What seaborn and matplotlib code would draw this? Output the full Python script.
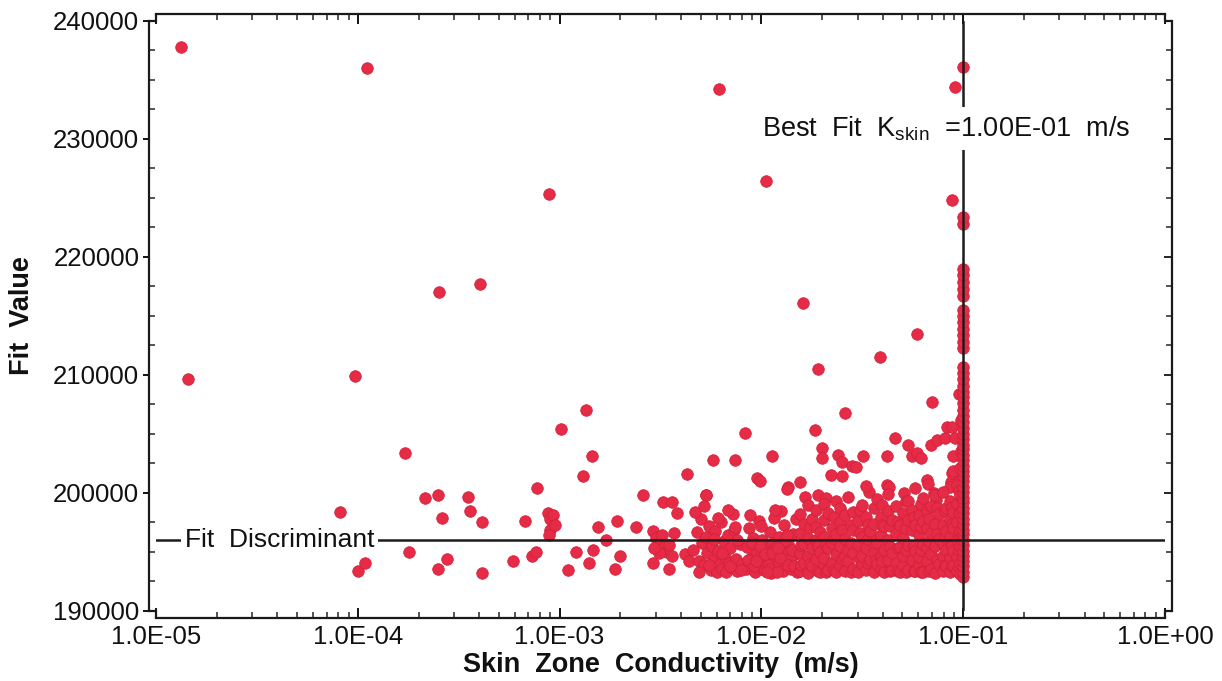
import matplotlib
matplotlib.use("Agg")
import matplotlib.pyplot as plt
import matplotlib.ticker as mticker
from matplotlib.lines import Line2D
import pandas as pd
import seaborn as sns

# ---- data: skin-zone conductivity trials (m/s) and their fit values ----
# scattered trials at low conductivity
low_k = [1.33e-5, 1.44e-5, 8.2e-5, 9.7e-5, 1.0e-4, 1.08e-4, 1.11e-4, 1.71e-4, 1.8e-4,
         2.15e-4, 2.49e-4, 2.6e-4, 2.5e-4, 2.76e-4, 2.52e-4, 3.52e-4, 3.6e-4, 4.04e-4,
         4.12e-4, 4.12e-4, 5.87e-4, 6.74e-4, 7.3e-4, 7.6e-4, 7.7e-4, 8.85e-4, 8.8e-4,
         9.0e-4, 9.3e-4, 9.0e-4, 9.5e-4, 8.9e-4, 1.02e-3, 1.1e-3, 1.2e-3, 1.3e-3,
         1.35e-3, 1.4e-3, 1.44e-3, 1.47e-3, 1.55e-3, 1.7e-3, 1.88e-3, 1.92e-3, 2.0e-3,
         2.4e-3, 2.59e-3, 2.9e-3, 3.25e-3, 3.6e-3, 3.5e-3, 3.8e-3, 2.9e-3, 3.0e-3,
         3.1e-3, 3.2e-3, 3.3e-3, 3.4e-3, 3.5e-3, 3.1e-3, 3.6e-3, 3.7e-3, 2.95e-3,
         4.2e-3, 4.4e-3, 4.27e-3]
low_fit = [237800, 209700, 198400, 209900, 193400, 194100, 236000, 203400, 195000,
           199600, 199800, 197900, 193600, 194400, 217000, 199700, 198500, 217700,
           197500, 193200, 194200, 197600, 194700, 195000, 200400, 225300, 198300,
           197800, 198100, 196900, 197300, 196400, 205400, 193500, 195000, 201400,
           207000, 194100, 203100, 195200, 197100, 196000, 193600, 197600, 194700,
           197100, 199800, 194100, 199200, 199200, 193600, 198300, 196800, 196200,
           195700, 196400, 195400, 195000, 195600, 194900, 194700, 196600, 195300,
           194800, 194200, 201600]

# trials between 4.5E-03 and 1.5E-02
mid_k = [4.6e-3, 4.8e-3, 4.9e-3, 5.0e-3, 5.1e-3, 5.2e-3, 5.3e-3, 5.4e-3, 5.5e-3, 5.6e-3,
         5.7e-3, 5.8e-3, 5.9e-3, 6.0e-3, 6.1e-3, 6.2e-3, 6.3e-3, 6.4e-3, 6.5e-3, 6.6e-3,
         6.7e-3, 6.8e-3, 6.9e-3, 7.0e-3, 7.1e-3, 7.3e-3, 7.5e-3, 7.6e-3, 7.8e-3, 8.0e-3,
         4.7e-3, 5.2e-3, 6.1e-3, 7.2e-3, 5.3e-3, 6.8e-3, 7.4e-3, 7.6e-3,
         8.4e-3, 8.5e-3, 8.7e-3, 8.9e-3, 9.1e-3, 9.3e-3, 9.5e-3, 9.7e-3, 9.9e-3, 1.01e-2,
         1.03e-2, 1.05e-2, 1.07e-2, 1.1e-2, 1.12e-2, 1.14e-2, 1.17e-2, 1.2e-2, 1.22e-2,
         1.25e-2, 1.28e-2, 1.3e-2, 1.33e-2, 1.36e-2, 1.4e-2, 1.43e-2, 1.46e-2, 1.5e-2,
         1.48e-2, 8.8e-3, 1.0e-2, 1.15e-2, 1.25e-2, 1.08e-2, 9.0e-3, 1.18e-2, 1.32e-2,
         1.38e-2, 1.0e-2,
         8.6e-3, 9.2e-3, 9.8e-3, 1.04e-2, 1.09e-2, 1.13e-2, 1.19e-2, 1.24e-2, 1.29e-2,
         1.35e-2, 1.41e-2, 1.45e-2, 9.4e-3, 1.06e-2, 1.21e-2, 1.34e-2, 5.5e-3, 6.4e-3,
         7.0e-3, 7.9e-3, 4.9e-3, 5.8e-3]
mid_fit = [195200, 196700, 194200, 197800, 195800, 193900, 196300, 194900, 197200, 193500,
           195500, 194300, 196800, 193300, 195100, 194000, 197500, 193600, 195900, 194600,
           193300, 196400, 194100, 195300, 193700, 196900, 194400, 193400, 195700, 194000,
           198400, 198900, 197900, 198200, 199800, 198600, 197100, 196000,
           193600, 195400, 197000, 194500, 196200, 193300, 195000, 197600, 194000, 196000,
           193500, 195300, 194300, 196700, 193200, 195800, 194700, 193800, 196300,
           195100, 193400, 197300, 194200, 195700, 193600, 196500, 194800, 193300,
           197800, 198100, 197200, 197900, 198500, 193900, 195800, 195400, 195000,
           194400, 194700,
           194300, 193800, 195500, 194800, 193600, 194900, 193300, 194500, 195900,
           193900, 195200, 193800, 194200, 193300, 195300, 196400, 193900, 194900,
           193800, 193500, 193300, 196100]

# dense band of trials from 1.5E-02 up to the best-fit value
band_rows = [
    (1.55e-2, [193400, 194900, 196600, 198200]),
    (1.58e-2, [193900, 195600]),
    (1.62e-2, [194100, 195700, 197400]),
    (1.70e-2, [193200, 194700, 196200, 199000]),
    (1.74e-2, [194000, 197100]),
    (1.78e-2, [193800, 195300, 197800]),
    (1.86e-2, [194400, 196000, 197100, 198600]),
    (1.90e-2, [193400, 195500]),
    (1.95e-2, [193300, 195000, 196700]),
    (2.05e-2, [193900, 194500, 196300, 197700, 199100]),
    (2.10e-2, [193300, 195600]),
    (2.15e-2, [193500, 195300, 198300]),
    (2.25e-2, [194100, 195800, 197000]),
    (2.30e-2, [193500, 196200, 198000]),
    (2.35e-2, [193300, 194800, 196500, 199300]),
    (2.45e-2, [193900, 195500, 197500, 198700]),
    (2.52e-2, [194400, 196900]),
    (2.60e-2, [193400, 194600, 196100, 198100]),
    (2.70e-2, [194200, 195200, 199700]),
    (2.78e-2, [193300, 195800, 197300]),
    (2.85e-2, [193600, 194900, 196900, 198400]),
    (3.00e-2, [193300, 195600, 197600]),
    (3.08e-2, [194400, 196600, 198600]),
    (3.15e-2, [194000, 194700, 196300, 199000]),
    (3.30e-2, [193500, 195300, 198000, 200600]),
    (3.38e-2, [194100, 196100, 197300]),
    (3.45e-2, [194300, 196800]),
    (3.60e-2, [193300, 195000, 197400, 198700]),
    (3.68e-2, [194300, 196000]),
    (3.75e-2, [194000, 195800, 199500]),
    (3.90e-2, [193600, 194700, 196400, 198000]),
    (3.98e-2, [194200, 197300, 199000]),
    (4.05e-2, [193300, 195200, 197200]),
    (4.25e-2, [194300, 196000, 198500, 199900]),
    (4.35e-2, [193400, 195400, 197200]),
    (4.45e-2, [193500, 194900, 197700]),
    (4.65e-2, [194100, 196500, 198900]),
    (4.75e-2, [193400, 195300, 197500]),
    (4.85e-2, [193300, 195400, 197300]),
    (5.05e-2, [193900, 194700, 196200, 198300]),
    (5.18e-2, [193300, 195200, 197000, 199300]),
    (5.30e-2, [193500, 195600, 197700, 199300]),
    (5.55e-2, [194300, 196900, 198600]),
    (5.68e-2, [193400, 195500, 198000]),
    (5.80e-2, [193400, 195100, 197300, 200400]),
    (6.05e-2, [193900, 194600, 196400, 198100]),
    (6.20e-2, [193300, 195200, 197100, 199100]),
    (6.35e-2, [193300, 195700, 197600, 199600]),
    (6.65e-2, [194200, 195300, 197000, 198500]),
    (6.80e-2, [193400, 195900, 197800]),
    (6.95e-2, [193600, 194800, 196600, 198900]),
    (7.25e-2, [193200, 195500, 197400, 199800]),
    (7.40e-2, [194300, 196500, 198700]),
    (7.60e-2, [194000, 196100, 198200]),
    (7.90e-2, [193400, 194700, 195800, 197300, 200100]),
    (8.10e-2, [193900, 196300, 198500]),
    (8.25e-2, [193800, 195200, 196800, 198700]),
    (8.60e-2, [193300, 194500, 196300, 197800, 199300]),
    (8.80e-2, [193800, 195600, 197400, 198800]),
    (8.95e-2, [193900, 195100, 197000, 198400, 201900]),
    (9.30e-2, [193400, 194600, 196000, 197500, 199100, 200700]),
    (9.50e-2, [193700, 195200, 196600, 198300, 200200]),
    (9.65e-2, [193100, 194100, 195500, 196800, 198200, 199800, 202100]),
]

# trials standing above the band
upper_k = [6.17e-3, 5.3e-3, 5.75e-3, 7.4e-3, 8.3e-3, 9.5e-3, 9.8e-3, 1.05e-2, 1.13e-2,
           1.17e-2, 1.35e-2, 1.34e-2, 1.55e-2, 1.65e-2, 1.61e-2, 1.85e-2, 1.9e-2, 1.9e-2,
           2.1e-2, 2.0e-2, 2.0e-2, 2.2e-2, 2.4e-2, 2.5e-2, 2.5e-2, 2.6e-2, 2.8e-2, 2.95e-2,
           3.2e-2, 3.4e-2, 3.87e-2, 4.2e-2, 4.2e-2, 4.3e-2, 4.59e-2, 5.1e-2, 5.3e-2, 5.6e-2,
           5.9e-2, 5.9e-2, 6.2e-2, 6.6e-2, 6.7e-2, 6.9e-2, 7.0e-2, 7.2e-2, 7.3e-2, 7.4e-2,
           8.1e-2, 8.3e-2, 8.7e-2, 8.6e-2, 8.8e-2, 8.8e-2, 8.9e-2, 9.1e-2, 8.8e-2, 9.1e-2,
           9.7e-2, 9.8e-2, 9.6e-2, 9.8e-2, 9.7e-2, 9.5e-2]
upper_fit = [234200, 199800, 202800, 202800, 205100, 201300, 201000, 226400, 203100,
             198600, 200500, 200300, 200900, 199700, 216100, 205300, 210500, 199800,
             199600, 203800, 203000, 201500, 203200, 202600, 201400, 206800, 202300, 202200,
             203100, 200100, 211500, 203100, 200700, 200500, 204700, 200000, 204100, 203100,
             213500, 203400, 203000, 201100, 200800, 204100, 207700, 200000, 199400, 204500,
             204700, 205600, 200900, 200500, 201700, 224800, 203100, 204700, 205600, 234400,
             197000, 199500, 201200, 203600, 206200, 208400]

# trials that converged on the best-fit conductivity
best_fit_k = 1.0e-1
column_fit = [192900, 193300, 193800, 194200, 194700, 195100, 195600, 196000, 196500,
              196900, 197400, 197800, 198300, 198700, 199200, 199600, 200100, 200500,
              201000, 201400, 201900, 202300, 202800, 203200, 203700, 204100, 204600,
              205000, 205500, 206000, 206500, 207000, 207600, 208100, 208600, 209100,
              209700, 210200, 210700, 212300, 212800, 213400, 213900, 214500, 215000,
              215500, 216700, 217300, 217900, 218500, 219000, 222800, 223400, 236100]

fit_discriminant = 196000
x_ticks = [1e-5, 1e-4, 1e-3, 1e-2, 1e-1, 1e0]
y_ticks = [190000, 200000, 210000, 220000, 230000, 240000]

# ---- assemble one table ----
k_all = list(low_k) + list(mid_k) + list(upper_k)
fit_all = list(low_fit) + list(mid_fit) + list(upper_fit)
for k, fits in band_rows:
    k_all += [k] * len(fits)
    fit_all += fits
k_all += [best_fit_k] * len(column_fit)
fit_all += column_fit
df = pd.DataFrame({"k": k_all, "fit": fit_all})

# ---- style ----
sns.set_theme(style="ticks")
plt.rcParams["font.family"] = ["Liberation Sans", "DejaVu Sans"]
plt.rcParams["mathtext.fontset"] = "custom"
plt.rcParams["mathtext.rm"] = "Liberation Sans"
plt.rcParams["mathtext.it"] = "Liberation Sans"
plt.rcParams["axes.linewidth"] = 1.6

W, H, DPI = 1222, 681, 100
fig = plt.figure(figsize=(W / DPI, H / DPI), dpi=DPI)
L, R, B, T = 156, 1165, 70, 660          # plot box in pixels (from lower left)
ax = fig.add_axes([L / W, B / H, (R - L) / W, (T - B) / H])

sns.scatterplot(data=df, x="k", y="fit", ax=ax, color="#E52B45", s=70,
                edgecolor="#D21F3A", linewidth=0.5, zorder=2, legend=False)

ax.set_xscale("log")
ax.set_xlim(x_ticks[0], x_ticks[-1])
ax.set_ylim(y_ticks[0], y_ticks[-1])

# reference lines
ax.axhline(fit_discriminant, color="#1c1c1c", lw=1.8, zorder=3)
ax.axvline(best_fit_k, color="#1c1c1c", lw=1.8, zorder=3)

ax.text(1.39e-5, fit_discriminant, "Fit  Discriminant", fontsize=19, ha="left",
        va="center", color="#111111", zorder=5,
        bbox=dict(facecolor="white", edgecolor="none", boxstyle="square,pad=0.15"))
ax.text(1.01e-2, 230900, r"Best  Fit  K$_{\mathrm{skin}}$  =1.00E-01  m/s", fontsize=19.5,
        ha="left", va="center", color="#111111", zorder=5,
        bbox=dict(facecolor="white", edgecolor="none", boxstyle="square,pad=0.28"))

# axis ticks
ax.xaxis.set_major_locator(mticker.FixedLocator(x_ticks))
ax.xaxis.set_major_formatter(mticker.FixedFormatter([f"{v:.1E}" for v in x_ticks]))
ax.xaxis.set_minor_locator(mticker.LogLocator(base=10, subs=range(2, 10), numticks=20))
ax.xaxis.set_minor_formatter(mticker.NullFormatter())
ax.yaxis.set_major_locator(mticker.FixedLocator(y_ticks))
ax.yaxis.set_major_formatter(mticker.FixedFormatter([f"{v:d}" for v in y_ticks]))
ax.yaxis.set_minor_locator(mticker.MultipleLocator(2500))

ax.tick_params(axis="x", which="major", direction="in", length=7, width=1.4,
               top=True, bottom=True, labelsize=18.5, pad=5, colors="#111111")
ax.tick_params(axis="x", which="minor", direction="in", length=4, width=1.1,
               top=True, bottom=True)
ax.tick_params(axis="y", which="major", direction="out", length=4, width=1.4,
               left=True, right=False, labelsize=18.5, pad=3, colors="#111111")
ax.tick_params(axis="y", which="minor", direction="in", length=4, width=1.1,
               left=True, right=False)

# right-hand ticks point inward
axr = ax.twinx()
axr.set_ylim(ax.get_ylim())
axr.yaxis.set_major_locator(mticker.FixedLocator(y_ticks))
axr.yaxis.set_minor_locator(mticker.MultipleLocator(2500))
axr.tick_params(axis="y", which="major", direction="in", length=6, width=1.4,
                labelright=False)
axr.tick_params(axis="y", which="minor", direction="in", length=4, width=1.1)
for s in ("left", "top", "bottom"):
    axr.spines[s].set_visible(False)

# frame with outward-offset sides joined by small steps at the corners
off_pt = 5.0
for s in ("left", "right", "top", "bottom"):
    ax.spines[s].set_position(("outward", off_pt))
    ax.spines[s].set_color("#1a1a1a")
ax.spines["right"].set_visible(False)
axr.spines["right"].set_position(("outward", off_pt))
axr.spines["right"].set_color("#1a1a1a")
axr.spines["right"].set_linewidth(1.6)

o = off_pt / 72
li, ri, bi, ti = L / DPI, R / DPI, B / DPI, T / DPI
steps = [
    ([li, li, li - o], [ti + o, ti, ti]),
    ([ri, ri, ri + o], [ti + o, ti, ti]),
    ([li, li, li - o], [bi - o, bi, bi]),
    ([ri, ri, ri + o], [bi - o, bi, bi]),
]
for xs, ys in steps:
    fig.add_artist(Line2D(xs, ys, transform=fig.dpi_scale_trans, color="#1a1a1a",
                          lw=1.6, solid_joinstyle="miter"))

# axis titles
ax.set_xlabel("Skin  Zone  Conductivity  (m/s)", fontsize=19.5, fontweight="bold",
              color="#111111", va="center")
ax.set_ylabel("Fit  Value", fontsize=19.5, fontweight="bold", color="#111111", va="center")
ax.xaxis.set_label_coords(0.5, -0.0915)
ax.yaxis.set_label_coords(-0.133, 0.5)

fig.savefig("out.png", dpi=DPI, facecolor="white")
